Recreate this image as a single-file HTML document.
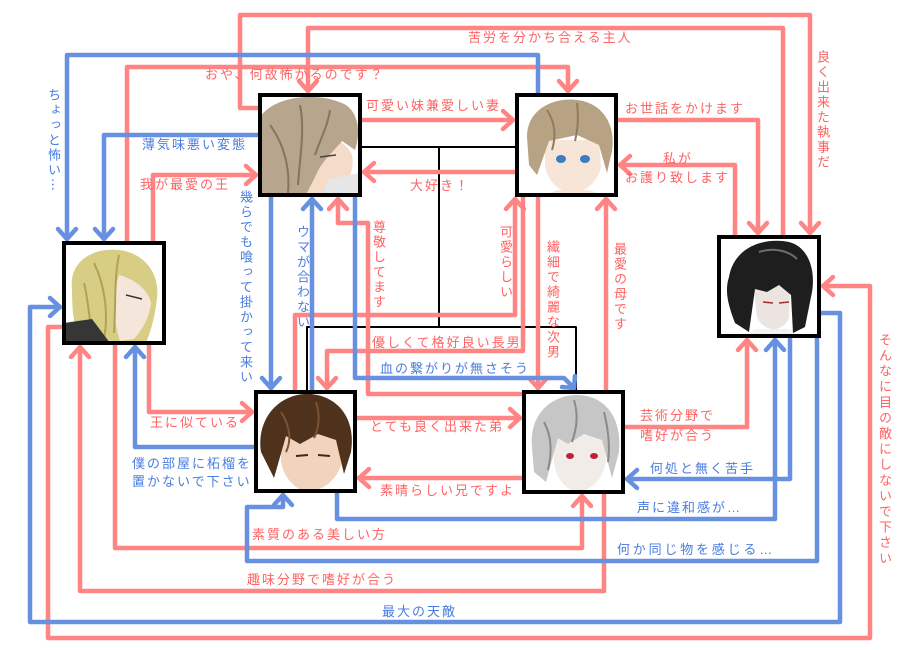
<!DOCTYPE html>
<html><head><meta charset="utf-8">
<style>
html,body{margin:0;padding:0;background:#fff;}
#w{position:relative;width:900px;height:650px;overflow:hidden;background:#fff;font-family:"Liberation Sans","Noto Sans CJK JP",sans-serif;}
svg{position:absolute;left:0;top:0;}
.t{position:absolute;font-size:13px;line-height:16px;letter-spacing:2px;white-space:nowrap;}
.p{color:#ff6262;}
.b{color:#4a7de0;}
.v{writing-mode:vertical-rl;line-height:16px;}
.n{font-family:"Noto Sans CJK JP",sans-serif;}
</style></head><body><div id="w">
<svg width="900" height="650" viewBox="0 0 900 650">
<defs>
<clipPath id="cb"><rect x="0" y="0" width="100" height="100"/></clipPath>
</defs>
<g fill="none" stroke-linecap="round" stroke-linejoin="round">
<!-- black family lines -->
<g stroke="#000" stroke-width="2">
<path d="M362,147 H515"/>
<path d="M439,147 V327"/>
<path d="M307,390 V327 H576 V390"/>
</g>
<!-- pink lines -->
<g stroke="#ff8585" stroke-width="4.5">
<path d="M258,108 H240 V15 H810 V233"/><polyline points="801,223 810,233 819,223"/>
<path d="M783,235 V28 H308 V91"/><polyline points="299,81 308,91 317,81"/>
<path d="M127,241 V67 H568 V91"/><polyline points="559,81 568,91 577,81"/>
<path d="M153,241 V175 H256"/><polyline points="246,166 256,175 246,184"/>
<path d="M362,120 H513"/><polyline points="503,111 513,120 503,129"/>
<path d="M515,172 H364"/><polyline points="374,163 364,172 374,181"/>
<path d="M618,120 H758 V233"/><polyline points="749,223 758,233 767,223"/>
<path d="M735,235 V165 H620"/><polyline points="630,156 620,165 630,174"/>
<path d="M522,394 H368 V223 H338 V199"/><polyline points="329,209 338,199 347,209"/>
<path d="M523,197 V351 H327 V388"/><polyline points="318,378 327,388 336,378"/>
<path d="M295,390 V315 H515 V199"/><polyline points="506,209 515,199 524,209"/>
<path d="M538,197 V388"/><polyline points="529,378 538,388 547,378"/>
<path d="M606,390 V199"/><polyline points="597,209 606,199 615,209"/>
<path d="M625,427 H747 V340"/><polyline points="738,350 747,340 756,350"/>
<path d="M62,327 H48 V638 H870 V286 H823"/><polyline points="833,277 823,286 833,295"/>
<path d="M604,494 V591 H80 V347"/><polyline points="71,357 80,347 89,357"/>
<path d="M115,345 V548 H582 V496"/><polyline points="573,506 582,496 591,506"/>
<path d="M149,345 V412 H252"/><polyline points="242,403 252,412 242,421"/>
<path d="M357,418 H520"/><polyline points="510,409 520,418 510,427"/>
<path d="M522,478 H359"/><polyline points="369,469 359,478 369,487"/>
</g>
<!-- blue lines -->
<g stroke="#6790e0" stroke-width="4.5">
<path d="M538,93 V55 H67 V239"/><polyline points="58,229 67,239 76,229"/>
<path d="M258,135 H104 V239"/><polyline points="95,229 104,239 113,229"/>
<path d="M312,390 V199"/><polyline points="303,209 312,199 321,209"/>
<path d="M271,197 V388"/><polyline points="262,378 271,388 280,378"/>
<path d="M355,197 V378 H564 L574,388"/><polyline points="575,376 574,388 562,387"/>
<path d="M790,338 V479 H627"/><polyline points="637,470 627,479 637,488"/>
<path d="M337,493 V519 H775 V340"/><polyline points="766,350 775,340 784,350"/>
<path d="M817,338 V561 H247 V507 H283 V495"/><polyline points="274,505 283,495 292,505"/>
<path d="M821,313 H840 V622 H30 V307 H60"/><polyline points="50,298 60,307 50,316"/>
<path d="M254,447 H135 V347"/><polyline points="126,357 135,347 144,357"/>
</g>
</g>

<!-- Node A: blond -->
<g transform="translate(64,243)">
<g clip-path="url(#cb)">
<rect width="100" height="100" fill="#fff"/>
<path d="M8,45 C5,18 30,4 55,7 C80,10 96,30 93,55 C91,75 86,90 82,100 L18,100 C9,85 8,65 8,45 Z" fill="#d8cd84"/>
<path d="M55,32 C70,36 84,46 87,60 C86,72 80,85 70,96 L56,98 C50,80 48,55 55,32Z" fill="#f5e6dc"/>
<path d="M30,20 C40,40 45,70 40,95 M55,12 C50,35 52,60 50,90 M20,40 C25,60 25,80 30,98" stroke="#b0a350" stroke-width="2" fill="none"/>
<path d="M62,52 L78,56" stroke="#333" stroke-width="1.5"/>
<path d="M0,80 L28,76 L46,100 L0,100Z" fill="#363636"/>
</g>
<rect x="0" y="0" width="100" height="100" fill="none" stroke="#000" stroke-width="4"/>
</g>

<!-- Node B: ash brown -->
<g transform="translate(260,95)">
<g clip-path="url(#cb)">
<rect width="100" height="100" fill="#fff"/>
<path d="M48,42 C65,38 85,44 92,60 C95,75 88,90 75,100 L42,100 C42,80 42,60 48,42Z" fill="#f4dcc8"/>
<path d="M0,22 C15,0 60,-4 86,10 C100,20 100,40 95,55 L82,46 C72,58 62,66 56,80 L46,100 L0,100 Z" fill="#b7a68d"/>
<path d="M10,30 C25,50 30,75 28,98 M40,10 C45,35 40,60 38,90 M70,15 C68,30 60,45 55,60" stroke="#85755c" stroke-width="2" fill="none"/>
<path d="M68,84 L100,78 L100,100 L62,100Z" fill="#e6e6e6"/>
<path d="M60,62 L76,60" stroke="#444" stroke-width="1.5"/>
</g>
<rect x="0" y="0" width="100" height="100" fill="none" stroke="#000" stroke-width="4"/>
</g>

<!-- Node C: light brown short -->
<g transform="translate(517,95)">
<g clip-path="url(#cb)">
<rect width="100" height="100" fill="#fff"/>
<path d="M28,45 L82,45 L84,72 C80,90 65,98 55,98 C42,96 32,88 28,72Z" fill="#f7e6d8"/>
<path d="M40,95 L72,95 L86,100 L28,100Z" fill="#f7e6d8"/>
<path d="M10,42 C10,12 40,2 60,5 C86,8 99,30 95,56 L90,78 L82,50 L60,40 L32,46 L20,80 L12,70 Z" fill="#b8a284"/>
<path d="M30,15 C40,30 38,45 35,55 M60,8 C62,25 60,38 58,46" stroke="#8f7b5e" stroke-width="2" fill="none"/>
<ellipse cx="44" cy="64" rx="5" ry="4" fill="#3b7cc4"/>
<ellipse cx="68" cy="64" rx="5" ry="4" fill="#3b7cc4"/>
</g>
<rect x="0" y="0" width="99" height="100" fill="none" stroke="#000" stroke-width="4"/>
</g>

<!-- Node D: black hair -->
<g transform="translate(719,237)">
<g clip-path="url(#cb)">
<rect width="100" height="100" fill="#fff"/>
<path d="M34,45 L72,45 L70,80 C65,96 45,96 38,80 Z" fill="#ebe4e0"/>
<path d="M36,92 L70,92 L85,100 L25,100Z" fill="#f2f2f2"/>
<path d="M10,40 C15,10 45,0 70,5 C90,10 98,35 92,60 L86,90 L74,96 L72,58 L60,48 L48,55 L36,52 L30,95 L16,86 C10,70 5,55 10,40Z" fill="#1e1e1e"/>
<path d="M40,15 C55,10 70,14 78,22" stroke="#6d6d6d" stroke-width="2" fill="none"/>
<path d="M44,65 L54,66 M60,66 L70,65" stroke="#a03030" stroke-width="1.5"/>
</g>
<rect x="0" y="0" width="100" height="99" fill="none" stroke="#000" stroke-width="4"/>
</g>

<!-- Node E: dark brown -->
<g transform="translate(256,392)">
<g clip-path="url(#cb)">
<rect width="100" height="100" fill="#fff"/>
<path d="M25,40 L84,40 L86,70 C80,92 62,100 50,100 C38,96 28,86 25,70Z" fill="#f2d4bd"/>
<path d="M5,60 C0,25 25,0 55,2 C85,5 100,30 95,60 L88,82 L80,48 L62,42 L44,52 L30,44 L18,86 Z" fill="#4f321c"/>
<path d="M25,20 C35,35 35,50 30,60 M60,10 C65,25 62,38 58,46" stroke="#7a5334" stroke-width="2" fill="none"/>
<path d="M40,64 L52,63 M62,63 L74,64" stroke="#3a2a1a" stroke-width="2"/>
</g>
<rect x="0" y="0" width="99" height="99" fill="none" stroke="#000" stroke-width="4"/>
</g>

<!-- Node F: silver -->
<g transform="translate(524,392)">
<g clip-path="url(#cb)">
<rect width="100" height="100" fill="#fff"/>
<path d="M30,40 L80,40 L82,70 C78,92 62,100 52,100 C40,96 32,86 30,70Z" fill="#f2ece9"/>
<path d="M8,55 C5,20 30,2 55,3 C85,5 98,30 95,60 L88,86 L78,48 L60,42 L44,52 L34,46 L22,90 L10,80Z" fill="#c6c6c6"/>
<path d="M20,30 C28,45 28,60 24,78 M50,8 C55,25 52,38 48,50 M80,20 C85,40 86,55 84,70" stroke="#8a8a8a" stroke-width="2" fill="none"/>
<ellipse cx="46" cy="64" rx="4" ry="3" fill="#c0203a"/>
<ellipse cx="70" cy="64" rx="4" ry="3" fill="#c0203a"/>
</g>
<rect x="0" y="0" width="99" height="100" fill="none" stroke="#000" stroke-width="4"/>
</g>
</svg>

<!-- horizontal pink labels -->
<div class="t p" style="left:205px;top:67px;">おや、何故怖がるのです？</div>
<div class="t p" style="left:468px;top:30px;">苦労を分かち合える主人</div>
<div class="t p" style="left:140px;top:177px;">我が最愛の王</div>
<div class="t p" style="left:366px;top:98px;">可愛い妹兼愛しい妻</div>
<div class="t p" style="left:410px;top:178px;">大好き！</div>
<div class="t p" style="left:625px;top:101px;">お世話をかけます</div>
<div class="t p" style="left:663px;top:151px;">私が</div>
<div class="t p" style="left:625px;top:170px;">お護り致します</div>
<div class="t p" style="left:372px;top:335px;">優しくて格好良い長男</div>
<div class="t p" style="left:150px;top:415px;">王に似ている</div>
<div class="t p" style="left:370px;top:419px;">とても良く出来た弟</div>
<div class="t p" style="left:640px;top:408px;">芸術分野で</div>
<div class="t p" style="left:640px;top:428px;">嗜好が合う</div>
<div class="t p" style="left:380px;top:483px;">素晴らしい兄ですよ</div>
<div class="t p" style="left:252px;top:527px;">素質のある美しい方</div>
<div class="t p" style="left:247px;top:572px;">趣味分野で嗜好が合う</div>

<!-- horizontal blue labels -->
<div class="t b" style="left:142px;top:137px;">薄気味悪い変態</div>
<div class="t b" style="left:380px;top:361px;">血の繋がりが無さそう</div>
<div class="t b" style="left:132px;top:456px;">僕の部屋に柘榴を</div>
<div class="t b" style="left:132px;top:474px;">置かないで下さい</div>
<div class="t b" style="left:650px;top:461px;">何処と無く苦手</div>
<div class="t b" style="left:637px;top:500px;">声に違和感が…</div>
<div class="t b" style="left:617px;top:542px;letter-spacing:2.8px;">何か同じ物を感じる…</div>
<div class="t b" style="left:382px;top:604px;">最大の天敵</div>

<!-- vertical pink labels -->
<div class="t p v" style="left:814px;top:50px;">良く出来た執事だ</div>
<div class="t p v" style="left:370px;top:220px;">尊敬してます</div>
<div class="t p v" style="left:497px;top:225px;">可愛らしい</div>
<div class="t p v" style="left:544px;top:240px;">繊細で綺麗な次男</div>
<div class="t p v" style="left:611px;top:242px;">最愛の母です</div>
<div class="t p v" style="left:876px;top:333px;letter-spacing:2.6px;">そんなに目の敵にしないで下さい</div>

<!-- vertical blue labels -->
<div class="t b v" style="left:45px;top:88px;">ちょっと怖い<span class="n">…</span></div>
<div class="t b v" style="left:237px;top:190px;">幾らでも喰って掛かって来い</div>
<div class="t b v" style="left:294px;top:225px;">ウマが合わない</div>
</div></body></html>
